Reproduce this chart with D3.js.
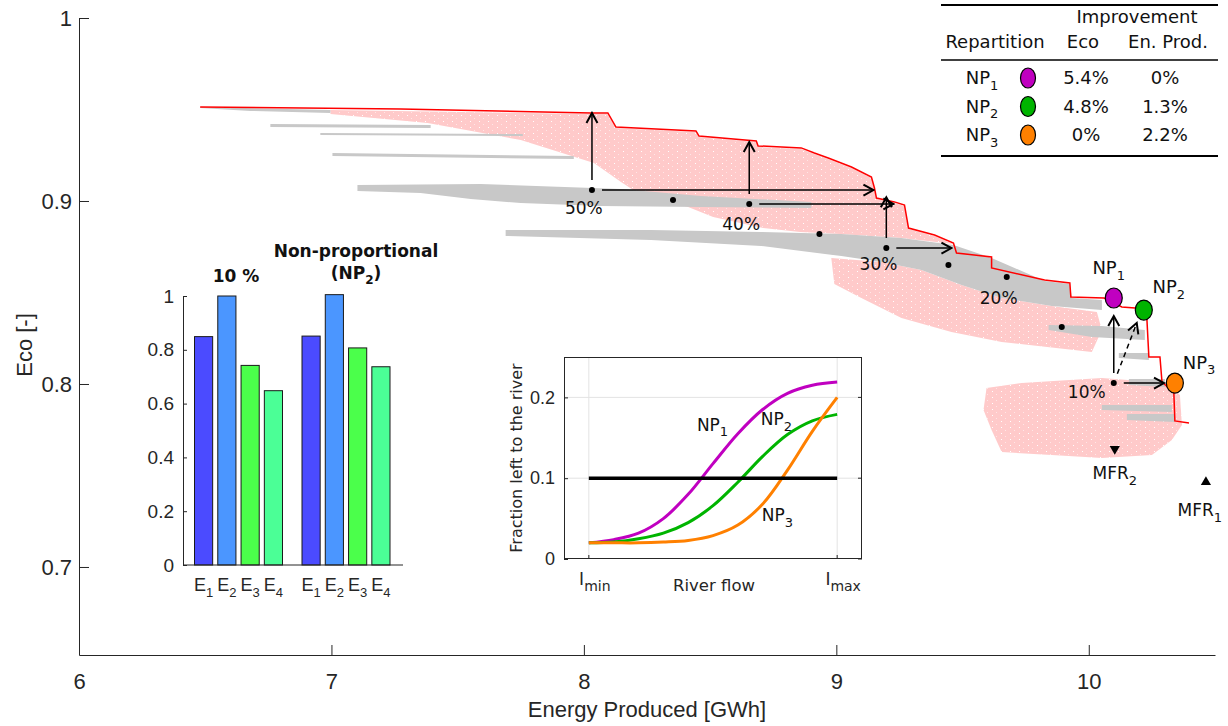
<!DOCTYPE html>
<html>
<head>
<meta charset="utf-8">
<script src="https://cdn.jsdelivr.net/npm/d3@7"></script>
<style>
body { margin: 0; background: #fff; }
</style>
</head>
<body>
<script>
var width = 1228;
var height = 726;

// ---- main plot data (Energy [GWh], Eco [-]) ----
var xTicks = [6, 7, 8, 9, 10];
var yTicks = [0.7, 0.8, 0.9, 1];

// red pareto front
var paretoFront = [[6.480,0.9514],[7.274,0.9503],[8.028,0.9481],[8.095,0.9481],[8.127,0.9404],[8.444,0.9383],[8.456,0.9355],[8.683,0.9328],[8.690,0.9301],[8.861,0.9290],[8.913,0.9262],[8.968,0.9235],[9.060,0.9186],[9.139,0.9131],[9.151,0.9071],[9.159,0.9016],[9.230,0.8995],[9.270,0.8978],[9.286,0.8852],[9.389,0.8814],[9.464,0.8770],[9.476,0.8716],[9.615,0.8694],[9.615,0.8634],[9.825,0.8568],[9.925,0.8552],[9.929,0.8475],[10.060,0.8470],[10.131,0.8421],[10.183,0.8415],[10.230,0.8361],[10.238,0.8148],[10.282,0.8148],[10.290,0.8011],[10.337,0.7951],[10.341,0.7798],[10.397,0.7787]];

// outlines of the pink cloud of solutions
var pinkClouds = [
  [[6.996,0.9497],[8.028,0.9475],[8.095,0.9475],[8.127,0.9399],[8.444,0.9377],[8.456,0.9350],[8.683,0.9322],[8.690,0.9295],[8.861,0.9284],[8.913,0.9257],[8.968,0.9230],[9.060,0.9180],[9.139,0.9126],[9.151,0.9066],[9.159,0.9011],[9.230,0.8989],[9.270,0.8973],[9.286,0.8847],[9.389,0.8809],[9.464,0.8765],[9.258,0.8798],[9.015,0.8820],[8.856,0.8831],[8.710,0.8853],[8.512,0.8913],[8.413,0.8967],[8.226,0.9033],[8.147,0.9104],[8.040,0.9208],[7.750,0.9333],[7.381,0.9426],[6.996,0.9475]],
  [[8.980,0.8689],[9.179,0.8667],[9.337,0.8623],[9.496,0.8541],[9.655,0.8470],[9.853,0.8426],[10.032,0.8393],[10.052,0.8295],[10.012,0.8175],[9.655,0.8230],[9.456,0.8284],[9.258,0.8361],[9.099,0.8470],[8.992,0.8546]],
  [[9.595,0.7978],[9.734,0.8005],[10.052,0.8033],[10.310,0.8005],[10.361,0.7940],[10.369,0.7776],[10.329,0.7694],[10.250,0.7612],[10.052,0.7596],[9.853,0.7612],[9.655,0.7628],[9.615,0.7749],[9.583,0.7858]]
];

// outlines of the gray bands (proportional repartitions)
var grayBands = [
  [[6.480,0.9514],[6.996,0.9497],[6.996,0.9481],[6.679,0.9492],[6.480,0.9508]],
  [[6.758,0.9421],[7.393,0.9415],[7.393,0.9399],[6.758,0.9404]],
  [[6.956,0.9372],[7.758,0.9366],[7.758,0.9355],[6.956,0.9361]],
  [[7.004,0.9262],[7.960,0.9246],[7.960,0.9229],[7.004,0.9246]],
  [[7.103,0.9087],[7.591,0.9093],[8.147,0.9066],[8.464,0.9027],[8.901,0.8995],[8.901,0.8962],[8.464,0.8967],[8.067,0.8973],[7.750,0.8989],[7.552,0.9011],[7.353,0.9044],[7.103,0.9055]],
  [[7.690,0.8842],[8.266,0.8842],[8.702,0.8831],[9.020,0.8820],[9.258,0.8798],[9.464,0.8760],[9.615,0.8689],[9.825,0.8563],[9.925,0.8546],[9.933,0.8470],[10.052,0.8459],[10.052,0.8404],[9.853,0.8426],[9.655,0.8470],[9.496,0.8541],[9.337,0.8623],[9.179,0.8667],[9.020,0.8699],[8.702,0.8754],[8.266,0.8787],[7.690,0.8809]],
  [[9.841,0.8322],[10.052,0.8317],[10.222,0.8295],[10.222,0.8240],[10.012,0.8257],[9.841,0.8295]],
  [[10.119,0.8169],[10.238,0.8169],[10.238,0.8131],[10.119,0.8142]],
  [[10.159,0.8027],[10.302,0.8027],[10.302,0.7984],[10.159,0.7995]],
  [[10.052,0.7885],[10.329,0.7885],[10.329,0.7847],[10.052,0.7858]],
  [[10.151,0.7836],[10.341,0.7836],[10.341,0.7792],[10.151,0.7803]]
];

var scenarioDots = [[8.032,0.9060],[8.353,0.9005],[8.655,0.8984],[8.933,0.8820],[9.198,0.8743],[9.444,0.8650],[9.675,0.8585],[9.893,0.8311],[10.099,0.8005]];
var scenarioLabels = [
  {text: '50%', E: 8.000, eco: 0.8962},
  {text: '40%', E: 8.623, eco: 0.8874},
  {text: '30%', E: 9.167, eco: 0.8656},
  {text: '20%', E: 9.643, eco: 0.8470},
  {text: '10%', E: 9.992, eco: 0.7956}
];

// arrows: from, to, dashed
var arrows = [
  [[8.032,0.9060],[8.032,0.9481],false],
  [[8.032,0.9060],[9.147,0.9060],false],
  [[8.655,0.8984],[8.655,0.9322],false],
  [[8.655,0.8984],[9.226,0.8984],false],
  [[9.198,0.8743],[9.198,0.9020],false],
  [[9.198,0.8743],[9.456,0.8743],false],
  [[10.099,0.8005],[10.099,0.8371],false],
  [[10.099,0.8005],[10.190,0.8333],true],
  [[10.099,0.8005],[10.298,0.8005],false]
];

var npNames = ['1', '2', '3'];
var npColors = ['#c000c0', '#00b400', '#ff8000'];
var npPoints = [[10.099,0.8470],[10.218,0.8404],[10.341,0.8005]];
var npLabelPos = [[10.079,0.8634],[10.317,0.8530],[10.437,0.8120]];
var npEcoGain = ['5.4%', '4.8%', '0%'];
var npEnergyGain = ['0%', '1.3%', '2.2%'];

var mfrNames = ['1', '2'];
var mfrPoints = [[10.464,0.7464],[10.103,0.7645]];
var mfrLabelPos = [[10.440,0.7311],[10.103,0.7514]];

// ---- bar inset data ----
var barCategories = ['1', '2', '3', '4'];
var barGroups = ['10 %', 'NP2'];
var barValues = [[0.849, 1.0, 0.742, 0.648], [0.851, 1.005, 0.807, 0.737]];
var barColors = ['#4b4bff', '#4b96ff', '#4bff4b', '#4bff96'];
var barTicks = [0, 0.2, 0.4, 0.6, 0.8, 1];

// ---- flow inset data ----
var flowX = [0, 0.1, 0.2, 0.3, 0.4, 0.5, 0.6, 0.7, 0.8, 0.9, 1.0];
var np1Flow = [0.020, 0.024, 0.032, 0.050, 0.080, 0.118, 0.155, 0.185, 0.205, 0.215, 0.219];
var np2Flow = [0.020, 0.021, 0.025, 0.032, 0.045, 0.066, 0.095, 0.127, 0.154, 0.171, 0.179];
var np3Flow = [0.020, 0.020, 0.020, 0.021, 0.023, 0.029, 0.042, 0.068, 0.110, 0.158, 0.200];
var mfrFlowX = [0, 1];
var mfrFlow = [0.1, 0.1];
var flowYTicks = [0, 0.1, 0.2];
var flowLabelPos = [[0.498,0.1665],[0.755,0.173],[0.759,0.055]];

var ink = '#262626';
var dejavu = 'DejaVu Sans, sans-serif';

var svg = d3.select('body')
  .append('svg')
  .attr('width', width)
  .attr('height', height)
  .style('font-family', 'Liberation Sans, Arial, sans-serif');

var x = d3.scaleLinear().domain([6, 10.5]).range([79, 1215]);
var y = d3.scaleLinear().domain([0.6519, 1]).range([655, 18]);

var line = d3.line().x(d => x(d[0])).y(d => y(d[1]));

// text with a subscript part
function subText(sel, main, sub, subSize, after) {
  sel.append('tspan').text(main);
  sel.append('tspan').attr('font-size', subSize).attr('dy', subSize * 0.45).text(sub);
  if (after) sel.append('tspan').attr('dy', -subSize * 0.45).text(after);
}

// speckled pink fill, like a dense scatter
var defs = svg.append('defs');
var speckle = defs.append('pattern')
  .attr('id', 'speckle')
  .attr('width', 9).attr('height', 6)
  .attr('patternUnits', 'userSpaceOnUse');
speckle.append('rect').attr('width', 9).attr('height', 6).attr('fill', '#ffcaca');
speckle.append('rect').attr('x', 2).attr('y', 1).attr('width', 1).attr('height', 1).attr('fill', '#fff');
speckle.append('rect').attr('x', 6).attr('y', 4).attr('width', 1).attr('height', 1).attr('fill', '#ffe6e6');

// clouds
svg.append('g').selectAll('path')
  .data(pinkClouds)
  .enter()
  .append('path')
  .attr('d', d => line(d) + 'Z')
  .attr('fill', 'url(#speckle)');

svg.append('g').selectAll('path')
  .data(grayBands)
  .enter()
  .append('path')
  .attr('d', d => line(d) + 'Z')
  .attr('fill', '#c8c8c8');

svg.append('path')
  .attr('d', line(paretoFront))
  .attr('fill', 'none')
  .attr('stroke', '#ff0000')
  .attr('stroke-width', 1.5);

// axes
var xAxis = d3.axisBottom(x).tickValues(xTicks).tickSize(-10).tickSizeOuter(0).tickPadding(18).tickFormat(d3.format('d'));
var gx = svg.append('g').attr('transform', 'translate(0,655)').call(xAxis);
var yAxis = d3.axisLeft(y).tickValues(yTicks).tickSize(-10).tickSizeOuter(0).tickPadding(7).tickFormat(d => d);
var gy = svg.append('g').attr('transform', 'translate(79,0)').call(yAxis);
[gx, gy].forEach(function(g) {
  g.attr('font-size', 22).attr('font-family', null);
  g.selectAll('path, line').attr('stroke', ink);
  g.selectAll('text').attr('fill', ink);
});

svg.append('text')
  .attr('x', 647).attr('y', 717)
  .attr('text-anchor', 'middle')
  .attr('font-size', 22).attr('fill', ink)
  .text('Energy Produced [GWh]');
svg.append('text')
  .attr('transform', 'translate(32,345) rotate(-90)')
  .attr('text-anchor', 'middle')
  .attr('font-size', 22).attr('fill', ink)
  .text('Eco [-]');

// arrows
defs.append('marker')
  .attr('id', 'head')
  .attr('viewBox', '-12 -8 14 16')
  .attr('markerWidth', 14).attr('markerHeight', 16)
  .attr('markerUnits', 'userSpaceOnUse')
  .attr('refX', 0).attr('refY', 0)
  .attr('orient', 'auto')
  .append('path')
  .attr('d', 'M-10,-5.5L0,0L-10,5.5')
  .attr('fill', 'none')
  .attr('stroke', '#000')
  .attr('stroke-width', 2);

svg.append('g').selectAll('line')
  .data(arrows)
  .enter()
  .append('line')
  .each(function(d) {
    var x0 = x(d[0][0]), y0 = y(d[0][1]), x1 = x(d[1][0]), y1 = y(d[1][1]);
    var len = Math.hypot(x1 - x0, y1 - y0), gap = 10;
    d3.select(this)
      .attr('x1', x0 + (x1 - x0) * gap / len)
      .attr('y1', y0 + (y1 - y0) * gap / len)
      .attr('x2', x1).attr('y2', y1);
  })
  .attr('stroke', '#000')
  .attr('stroke-width', 1.5)
  .attr('stroke-dasharray', d => d[2] ? '5,4' : null)
  .attr('marker-end', 'url(#head)');

svg.append('g').selectAll('circle')
  .data(scenarioDots)
  .enter()
  .append('circle')
  .attr('cx', d => x(d[0]))
  .attr('cy', d => y(d[1]))
  .attr('r', 3)
  .attr('fill', '#000');

svg.append('g').selectAll('text')
  .data(scenarioLabels)
  .enter()
  .append('text')
  .attr('x', d => x(d.E))
  .attr('y', d => y(d.eco))
  .attr('dy', '0.36em')
  .attr('text-anchor', 'middle')
  .attr('font-family', dejavu)
  .attr('font-size', 17)
  .attr('fill', '#111')
  .text(d => d.text);

// NP points
svg.append('g').selectAll('ellipse')
  .data(npPoints)
  .enter()
  .append('ellipse')
  .attr('cx', d => x(d[0]))
  .attr('cy', d => y(d[1]))
  .attr('rx', 8.5).attr('ry', 10)
  .attr('fill', (d, i) => npColors[i])
  .attr('stroke', '#000')
  .attr('stroke-width', 1.2);

npLabelPos.forEach(function(p, i) {
  var t = svg.append('text')
    .attr('x', x(p[0])).attr('y', y(p[1]))
    .attr('dy', '0.36em')
    .attr('text-anchor', 'middle')
    .attr('font-family', dejavu)
    .attr('font-size', 18)
    .attr('fill', '#111');
  subText(t, 'NP', npNames[i], 13);
});

svg.append('g').selectAll('path')
  .data(mfrPoints)
  .enter()
  .append('path')
  .attr('d', d3.symbol(d3.symbolTriangle, 45))
  .attr('transform', (d, i) => 'translate(' + x(d[0]) + ',' + y(d[1]) + ')' + (i == 1 ? ' rotate(180)' : ''))
  .attr('fill', '#000');

mfrLabelPos.forEach(function(p, i) {
  var t = svg.append('text')
    .attr('x', x(p[0])).attr('y', y(p[1]))
    .attr('dy', '0.36em')
    .attr('text-anchor', 'middle')
    .attr('font-family', dejavu)
    .attr('font-size', 17)
    .attr('fill', '#111');
  subText(t, 'MFR', mfrNames[i], 13);
});

// ---- table (top right) ----
var table = svg.append('g')
  .attr('font-family', dejavu)
  .attr('font-size', 18)
  .attr('fill', '#111')
  .attr('text-anchor', 'middle');
table.append('line').attr('x1', 941).attr('x2', 1218).attr('y1', 5).attr('y2', 5).attr('stroke', '#000').attr('stroke-width', 2);
table.append('line').attr('x1', 941).attr('x2', 1218).attr('y1', 60).attr('y2', 60).attr('stroke', '#000').attr('stroke-width', 1.5);
table.append('line').attr('x1', 941).attr('x2', 1218).attr('y1', 156).attr('y2', 156).attr('stroke', '#000').attr('stroke-width', 2);
table.append('text').attr('x', 1137).attr('y', 23).text('Improvement');
table.append('text').attr('x', 995).attr('y', 48).text('Repartition');
table.append('text').attr('x', 1083).attr('y', 48).text('Eco');
table.append('text').attr('x', 1168).attr('y', 48).text('En. Prod.');
var rowY = d3.scalePoint().domain(npNames).range([78, 135]);
npNames.forEach(function(n, i) {
  var cy = rowY(n);
  subText(table.append('text').attr('x', 982).attr('y', cy + 6), 'NP', n, 13);
  table.append('ellipse').attr('cx', 1028).attr('cy', cy).attr('rx', 7.5).attr('ry', 10)
    .attr('fill', npColors[i]).attr('stroke', '#000').attr('stroke-width', 1.2);
  table.append('text').attr('x', 1086).attr('y', cy + 6).text(npEcoGain[i]);
  table.append('text').attr('x', 1165).attr('y', cy + 6).text(npEnergyGain[i]);
});

// ---- bar inset ----
var bx = d3.scalePoint().domain([0, 1]).range([238.5, 346]);
var bxInner = d3.scaleBand().domain(barCategories).range([-44, 44]).paddingInner(0.22);
var by = d3.scaleLinear().domain([0, 1]).range([565, 296]);

var bars = svg.append('g');
barValues.forEach(function(vals, gi) {
  bars.selectAll('rect.g' + gi)
    .data(vals)
    .enter()
    .append('rect')
    .attr('class', 'g' + gi)
    .attr('x', (d, i) => bx(gi) + bxInner(barCategories[i]))
    .attr('y', d => by(d))
    .attr('width', bxInner.bandwidth())
    .attr('height', d => by(0) - by(d))
    .attr('fill', (d, i) => barColors[i])
    .attr('stroke', '#1a1a1a')
    .attr('stroke-width', 1);
  barCategories.forEach(function(c) {
    var t = bars.append('text')
      .attr('x', bx(gi) + bxInner(c) + bxInner.bandwidth() / 2)
      .attr('y', 591)
      .attr('text-anchor', 'middle')
      .attr('font-size', 18)
      .attr('fill', ink);
    subText(t, 'E', c, 13);
  });
});
var gb = svg.append('g').attr('transform', 'translate(183,0)')
  .call(d3.axisLeft(by).tickValues(barTicks).tickSize(-4).tickSizeOuter(0).tickPadding(9).tickFormat(d => d));
gb.attr('font-size', 19).attr('font-family', null);
gb.selectAll('path, line').attr('stroke', ink);
gb.selectAll('text').attr('fill', ink);
svg.append('line').attr('x1', 183).attr('x2', 403).attr('y1', 565).attr('y2', 565).attr('stroke', ink);

svg.append('text').attr('x', 236).attr('y', 282).attr('text-anchor', 'middle')
  .attr('font-family', dejavu).attr('font-weight', 'bold').attr('font-size', 17).attr('fill', '#111')
  .text(barGroups[0]);
svg.append('text').attr('x', 356).attr('y', 257).attr('text-anchor', 'middle')
  .attr('font-family', dejavu).attr('font-weight', 'bold').attr('font-size', 17).attr('fill', '#111')
  .text('Non-proportional');
subText(svg.append('text').attr('x', 356).attr('y', 279).attr('text-anchor', 'middle')
  .attr('font-family', dejavu).attr('font-weight', 'bold').attr('font-size', 17).attr('fill', '#111'),
  '(NP', '2', 12, ')');

// ---- flow inset ----
var lx = d3.scaleLinear().domain([-0.1, 1.1]).range([564, 862]);
var ly = d3.scaleLinear().domain([0, 0.25]).range([559, 357]);
var flow = svg.append('g');
flow.append('rect').attr('x', 564).attr('y', 357).attr('width', 298).attr('height', 202).attr('fill', '#fff');
flow.selectAll('line.gx')
  .data(mfrFlowX)
  .enter()
  .append('line')
  .attr('x1', d => lx(d)).attr('x2', d => lx(d))
  .attr('y1', 357).attr('y2', 559)
  .attr('stroke', '#e3e3e3');
flow.selectAll('line.gy')
  .data(flowYTicks.slice(1))
  .enter()
  .append('line')
  .attr('x1', 564).attr('x2', 862)
  .attr('y1', d => ly(d)).attr('y2', d => ly(d))
  .attr('stroke', '#e3e3e3');

var fline = d3.line().x(d => lx(d[0])).y(d => ly(d[1])).curve(d3.curveCatmullRom.alpha(0.5));
[np1Flow, np2Flow, np3Flow].forEach(function(vals, i) {
  flow.append('path')
    .attr('d', fline(flowX.map((v, k) => [v, vals[k]])))
    .attr('fill', 'none')
    .attr('stroke', npColors[i])
    .attr('stroke-width', 3);
});
flow.append('path')
  .attr('d', fline(mfrFlowX.map((v, k) => [v, mfrFlow[k]])))
  .attr('stroke', '#000')
  .attr('stroke-width', 3.5);

flow.append('rect').attr('x', 564.5).attr('y', 357.5).attr('width', 297).attr('height', 201)
  .attr('fill', 'none').attr('stroke', ink);
var gfy = flow.append('g').attr('transform', 'translate(564,0)')
  .call(d3.axisLeft(ly).tickValues(flowYTicks).tickSize(-4).tickSizeOuter(0).tickPadding(9).tickFormat(d => d));
gfy.attr('font-size', 18).attr('font-family', null);
gfy.selectAll('path, line').attr('stroke', ink);
gfy.selectAll('text').attr('fill', ink);
flow.selectAll('line.rt')
  .data(flowYTicks)
  .enter()
  .append('line')
  .attr('x1', 858).attr('x2', 862)
  .attr('y1', d => ly(d)).attr('y2', d => ly(d))
  .attr('stroke', ink);
flow.selectAll('line.bt')
  .data(mfrFlowX)
  .enter()
  .append('line')
  .attr('x1', d => lx(d)).attr('x2', d => lx(d))
  .attr('y1', 555).attr('y2', 559)
  .attr('stroke', ink);

['min', 'max'].forEach(function(s, i) {
  var t = flow.append('text')
    .attr('x', lx(mfrFlowX[i]) + 6).attr('y', 585)
    .attr('text-anchor', 'middle')
    .attr('font-family', dejavu)
    .attr('font-size', 17)
    .attr('fill', ink);
  subText(t, 'I', s, 14);
});
flow.append('text').attr('x', 714).attr('y', 591).attr('text-anchor', 'middle')
  .attr('font-family', dejavu).attr('font-size', 16.5).attr('fill', ink)
  .text('River flow');
flow.append('text').attr('transform', 'translate(522,458) rotate(-90)').attr('text-anchor', 'middle')
  .attr('font-family', dejavu).attr('font-size', 16).attr('fill', ink)
  .text('Fraction left to the river');
flowLabelPos.forEach(function(p, i) {
  var t = flow.append('text')
    .attr('x', lx(p[0])).attr('y', ly(p[1]))
    .attr('dy', '0.36em')
    .attr('text-anchor', 'middle')
    .attr('font-family', dejavu)
    .attr('font-size', 17)
    .attr('fill', '#111');
  subText(t, 'NP', npNames[i], 13);
});
</script>
</body>
</html>
